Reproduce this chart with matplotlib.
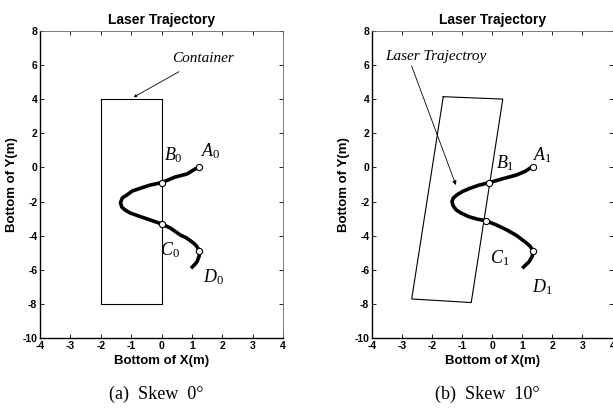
import matplotlib
matplotlib.use("Agg")
import matplotlib.pyplot as plt

plt.rcParams['font.family'] = ['Liberation Sans Narrow', 'Liberation Sans', 'DejaVu Sans']
plt.rcParams['axes.unicode_minus'] = False
plt.rcParams['mathtext.fontset'] = 'custom'
plt.rcParams['mathtext.rm'] = 'Liberation Serif'
plt.rcParams['mathtext.it'] = 'Liberation Serif:italic'

# ---- panel (a): skew 0 deg ----
traj0_x = [1.25, 1.05, 0.84, 0.45, 0.0, -0.37, -0.70, -0.96, -1.14, -1.29, -1.35, -1.31,
           -1.20, -1.03, -0.70, -0.37, 0.0, 0.29, 0.62, 0.82, 1.06, 1.15, 1.25, 1.24, 1.17, 1.11, 0.97]
traj0_y = [0.05, -0.15, -0.38, -0.56, -0.89, -1.03, -1.22, -1.38, -1.61, -1.79, -2.06, -2.32,
           -2.49, -2.67, -2.88, -3.08, -3.31, -3.55, -3.96, -4.13, -4.44, -4.6, -4.89, -5.19, -5.52, -5.66, -5.91]
box0_x = [-2.0, 0.0, 0.0, -2.0, -2.0]
box0_y = [4.0, 4.0, -8.0, -8.0, 4.0]
pts0_x = [1.25, 0.0, 0.0, 1.25]
pts0_y = [0.05, -0.89, -3.31, -4.89]
lab0 = ['$A_0$', '$B_0$', '$C_0$', '$D_0$']
lab0_x = [1.64, 0.39, 0.29, 1.71]
lab0_y = [0.95, 0.73, -4.84, -6.45]

# ---- panel (b): skew 10 deg ----
traj1_x = [1.34, 1.10, 0.81, 0.35, -0.10, -0.45, -0.74, -0.98, -1.18, -1.30, -1.34, -1.30,
           -1.20, -1.03, -0.79, -0.52, -0.22, 0.15, 0.48, 0.80, 1.08, 1.25, 1.36, 1.33, 1.23, 1.12, 1.00]
traj1_y = [0.05, -0.22, -0.44, -0.66, -0.89, -1.04, -1.22, -1.40, -1.61, -1.80, -2.00, -2.25,
           -2.49, -2.68, -2.88, -3.02, -3.12, -3.38, -3.66, -3.98, -4.35, -4.60, -4.89, -5.20, -5.52, -5.70, -5.91]
box1_x = [-1.63, 0.35, -0.70, -2.68, -1.63]
box1_y = [4.15, 4.01, -7.92, -7.71, 4.15]
pts1_x = [1.34, -0.10, -0.22, 1.36]
pts1_y = [0.05, -0.89, -3.12, -4.89]
lab1 = ['$A_1$', '$B_1$', '$C_1$', '$D_1$']
lab1_x = [1.68, 0.42, 0.25, 1.68]
lab1_y = [0.73, 0.26, -5.3, -7.0]

xticks = [-4, -3, -2, -1, 0, 1, 2, 3, 4]
yticks = [-10, -8, -6, -4, -2, 0, 2, 4, 6, 8]

fig = plt.figure(figsize=(6.13, 4.17), dpi=100)
ax0 = fig.add_axes([0.0653, 0.1894, 0.3964, 0.7362])
ax1 = fig.add_axes([0.6069, 0.1894, 0.3923, 0.7362])

panels = [
    (ax0, traj0_x, traj0_y, box0_x, box0_y, pts0_x, pts0_y, lab0, lab0_x, lab0_y, '(a)  Skew  0°'),
    (ax1, traj1_x, traj1_y, box1_x, box1_y, pts1_x, pts1_y, lab1, lab1_x, lab1_y, '(b)  Skew  10°'),
]

for ax, tx, ty, bx, by, px, py, labs, lx, ly, cap in panels:
    ax.plot(bx, by, color='black', lw=0.8)
    ax.plot(tx, ty, color='black', lw=2.6, solid_capstyle='butt', solid_joinstyle='round')
    ax.plot(px, py, 'o', ms=4.5, mfc='white', mec='black', mew=0.8)
    for s, x, y in zip(labs, lx, ly):
        ax.text(x, y, s, fontsize=13, ha='center', va='center')
    ax.set_xlim(-4, 4)
    ax.set_ylim(-10, 8)
    ax.set_xticks(xticks)
    ax.set_yticks(yticks)
    ax.tick_params(direction='in', length=3, width=0.6, top=True, right=True,
                   labelsize=7.5, pad=2)
    for t in ax.get_xticklabels() + ax.get_yticklabels():
        t.set_fontweight('bold')
    for sp in ['top', 'right']:
        ax.spines[sp].set_linewidth(0.6)
        ax.spines[sp].set_color('#666666')
    for sp in ['left', 'bottom']:
        ax.spines[sp].set_linewidth(1.0)
    ax.set_title('Laser Trajectory', fontsize=10, fontweight='bold', pad=5)
    ax.set_xlabel('Bottom of X(m)', fontsize=9.5, fontweight='bold', labelpad=3)
    ax.set_ylabel('Bottom of Y(m)', fontsize=9.5, fontweight='bold', labelpad=3)
    ax.text(0.48, -0.185, cap, transform=ax.transAxes, ha='center', va='center',
            fontsize=13, family='Liberation Serif')

ax0.annotate('Container', xy=(-0.92, 4.12), xytext=(0.34, 6.4),
             fontsize=11, family='Liberation Serif', style='italic',
             ha='left', va='center',
             arrowprops=dict(arrowstyle='-|>', color='black', lw=0.6,
                             mutation_scale=4, shrinkA=6, shrinkB=0))
ax1.annotate('Laser Trajectroy', xy=(-1.21, -1.03), xytext=(-3.56, 6.5),
             fontsize=11, family='Liberation Serif', style='italic',
             ha='left', va='center',
             arrowprops=dict(arrowstyle='-|>', color='black', lw=0.6,
                             mutation_scale=6, shrinkA=0, shrinkB=0,
                             relpos=(0.25, 0.0)))

fig.savefig('out.png', dpi=100)
